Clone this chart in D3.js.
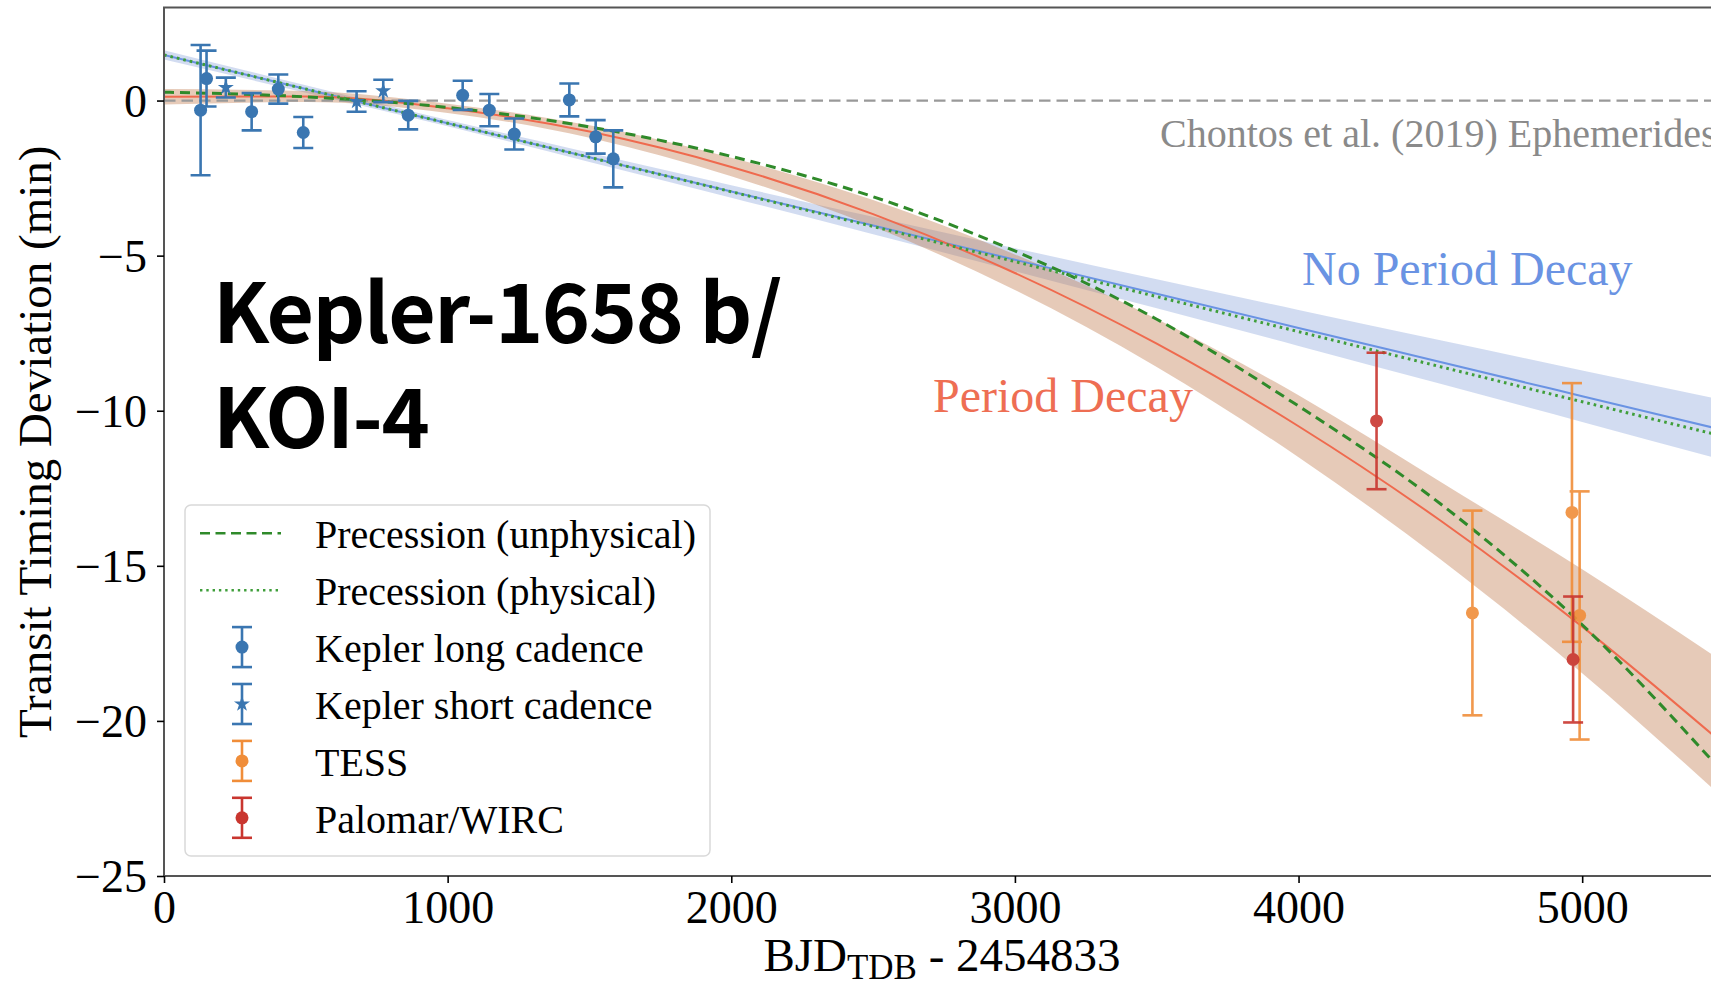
<!DOCTYPE html>
<html>
<head>
<meta charset="utf-8">
<script src="https://cdn.jsdelivr.net/npm/d3@7"></script>
<style>
  html, body { margin: 0; padding: 0; background: #ffffff; }
  svg { display: block; }
</style>
</head>
<body>
<svg id="chart" width="1711" height="984"></svg>
<script>
// ---- axis ticks ----
const xTicks = [0, 1000, 2000, 3000, 4000, 5000];
const yTicks = [0, -5, -10, -15, -20, -25];

// ---- observed transit times (days since BJD 2454833, deviation in minutes) ----
const keplerLongX   = [129, 150, 309, 403, 491, 861, 1053, 1147, 1235, 1429, 1522, 1584];
const keplerLongY   = [-0.31, 0.71, -0.36, 0.37, -1.03, -0.47, 0.17, -0.31, -1.08, 0.02, -1.17, -1.88];
const keplerLongErr = [2.1, 0.9, 0.6, 0.47, 0.5, 0.46, 0.47, 0.52, 0.5, 0.53, 0.54, 0.92];

const keplerShortX   = [218, 679, 773];
const keplerShortY   = [0.42, -0.03, 0.31];
const keplerShortErr = [0.32, 0.33, 0.36];

const tessX   = [4613, 4964, 4991];
const tessY   = [-16.52, -13.28, -16.6];
const tessErr = [3.3, 4.17, 4.0];

const palomarX   = [4275, 4968];
const palomarY   = [-10.33, -18.02];
const palomarErr = [2.2, 2.03];

// ---- model curves sampled along the time axis ----
const modelX = [0, 500, 1000, 1500, 2000, 2500, 3000, 3500, 4000, 4500, 5000, 5500];

const noDecayY     = [1.47, 0.37, -0.73, -1.83, -2.93, -4.03, -5.13, -6.23, -7.33, -8.43, -9.53, -10.63];
const noDecayUpper = [1.62, 0.49, -0.63, -1.68, -2.73, -3.75, -4.76, -5.76, -6.75, -7.73, -8.70, -9.66];
const noDecayLower = [1.32, 0.25, -0.83, -1.98, -3.13, -4.31, -5.50, -6.70, -7.91, -9.13, -10.36, -11.60];

const decayY     = [0.12, 0.13, -0.25, -1.00, -2.14, -3.66, -5.56, -7.84, -10.50, -13.54, -16.96, -20.76];
const decayUpper = [0.37, 0.31, -0.10, -0.80, -1.84, -3.21, -4.96, -7.04, -9.50, -12.29, -15.11, -18.11];
const decayLower = [-0.13, -0.05, -0.40, -1.20, -2.44, -4.06, -6.11, -8.59, -11.50, -14.79, -18.46, -22.51];

const precUnphysY = [0.27, 0.12, -0.22, -0.85, -1.80, -3.10, -4.85, -7.05, -9.85, -13.00, -16.90, -21.70];
const precPhysY   = [1.47, 0.37, -0.73, -1.83, -2.94, -4.06, -5.19, -6.32, -7.45, -8.58, -9.71, -10.83];

// ---- colours ----
const cKepler = "#3a76b1";
const cTess = "#f08d39";
const cPalomar = "#c9362f";
const cNoDecay = "#6a93e3";
const cDecay = "#ef6a4e";
const cGreenDash = "#2f8a2a";
const cGreenDot = "#3f9e3a";

const svg = d3.select("#chart");
const plot = { left: 164, right: 1724, top: 7.5, bottom: 876 };

const x = d3.scaleLinear().domain([0, 5500]).range([plot.left, plot.right]);
const y = d3.scaleLinear().domain([-25, 3]).range([plot.bottom, plot.top]);

svg.append("defs").append("clipPath").attr("id", "plotClip")
  .append("rect")
  .attr("x", plot.left).attr("y", plot.top)
  .attr("width", plot.right - plot.left).attr("height", plot.bottom - plot.top);

const g = svg.append("g").attr("clip-path", "url(#plotClip)");

const zip = (xs, ys) => xs.map((v, i) => [v, ys[i]]);
const bandData = (lo, hi) => modelX.map((v, i) => ({ x: v, lo: lo[i], hi: hi[i] }));

const band = d3.area()
  .x(d => x(d.x)).y0(d => y(d.lo)).y1(d => y(d.hi))
  .curve(d3.curveMonotoneX);
const line = d3.line().x(d => x(d[0])).y(d => y(d[1])).curve(d3.curveMonotoneX);

// uncertainty bands
g.append("path").datum(bandData(noDecayLower, noDecayUpper))
  .attr("d", band).attr("fill", "#8ea7db").attr("fill-opacity", 0.4);
g.append("path").datum(bandData(decayLower, decayUpper))
  .attr("d", band).attr("fill", "#c07a4e").attr("fill-opacity", 0.4);

// reference ephemeris line at zero
g.append("line")
  .attr("x1", plot.left).attr("x2", plot.right)
  .attr("y1", y(0)).attr("y2", y(0))
  .attr("stroke", "#999999").attr("stroke-width", 2.3)
  .attr("stroke-dasharray", "11.5 6");

// model lines
g.append("path").datum(zip(modelX, noDecayY)).attr("d", line)
  .attr("fill", "none").attr("stroke", cNoDecay).attr("stroke-width", 2);
g.append("path").datum(zip(modelX, decayY)).attr("d", line)
  .attr("fill", "none").attr("stroke", cDecay).attr("stroke-width", 2);
g.append("path").datum(zip(modelX, precUnphysY)).attr("d", line)
  .attr("fill", "none").attr("stroke", cGreenDash).attr("stroke-width", 3)
  .attr("stroke-dasharray", "10 6");
g.append("path").datum(zip(modelX, precPhysY)).attr("d", line)
  .attr("fill", "none").attr("stroke", cGreenDot).attr("stroke-width", 3)
  .attr("stroke-dasharray", "2.6 4");

// error bar helper
const capHalf = 10;
function errorBars(xs, ys, errs, color, marker, opacity) {
  const grp = g.append("g").attr("opacity", opacity);
  xs.forEach((xv, i) => {
    const cx = x(xv), top = y(ys[i] + errs[i]), bot = y(ys[i] - errs[i]);
    grp.append("line").attr("x1", cx).attr("x2", cx).attr("y1", top).attr("y2", bot)
      .attr("stroke", color).attr("stroke-width", 2.6);
    [top, bot].forEach(cy => grp.append("line")
      .attr("x1", cx - capHalf).attr("x2", cx + capHalf).attr("y1", cy).attr("y2", cy)
      .attr("stroke", color).attr("stroke-width", 2.6));
    if (marker === "circle") {
      grp.append("circle").attr("cx", cx).attr("cy", y(ys[i])).attr("r", 6.5).attr("fill", color);
    } else {
      grp.append("path").attr("d", d3.symbol(d3.symbolStar, 80)())
        .attr("transform", `translate(${cx},${y(ys[i])})`).attr("fill", color);
    }
  });
}
errorBars(keplerLongX, keplerLongY, keplerLongErr, cKepler, "circle", 1);
errorBars(keplerShortX, keplerShortY, keplerShortErr, cKepler, "star", 1);
errorBars(tessX, tessY, tessErr, cTess, "circle", 0.9);
errorBars(palomarX, palomarY, palomarErr, cPalomar, "circle", 0.9);

// annotations inside the axes
const serif = "'Liberation Serif', 'Times New Roman', serif";
g.append("text").attr("x", 1160).attr("y", 147)
  .attr("font-family", serif).attr("font-size", 40).attr("fill", "#8a8a8a")
  .text("Chontos et al. (2019) Ephemerides");
svg.append("text").attr("x", 1302).attr("y", 285)
  .attr("font-family", serif).attr("font-size", 48).attr("fill", cNoDecay)
  .text("No Period Decay");
svg.append("text").attr("x", 933).attr("y", 411.5)
  .attr("font-family", serif).attr("font-size", 48).attr("fill", "#ee6e53")
  .text("Period Decay");

// planet name
const titleFont = "'Noto Sans CJK SC', 'Noto Sans', sans-serif";
[["Kepler-1658 b/", 343], ["KOI-4", 448]].forEach(([txt, by]) => {
  svg.append("text")
    .attr("x", 213).attr("y", by)
    .attr("font-family", titleFont).attr("font-weight", 700)
    .attr("font-size", 82).attr("letter-spacing", -1.5).attr("fill", "#000")
    .text(txt);
});

// frame
svg.append("rect")
  .attr("x", plot.left).attr("y", plot.top)
  .attr("width", plot.right - plot.left).attr("height", plot.bottom - plot.top)
  .attr("fill", "none").attr("stroke", "#555555").attr("stroke-width", 2);

// axes
const xAxis = svg.append("g").attr("transform", `translate(0,${plot.bottom})`)
  .call(d3.axisBottom(x).tickValues(xTicks).tickSize(7).tickFormat(d3.format("d")));
xAxis.select(".domain").remove();
xAxis.selectAll(".tick line").attr("stroke", "#000").attr("stroke-width", 1.6);
xAxis.selectAll(".tick text")
  .attr("y", 47).attr("dy", null)
  .attr("font-family", serif).attr("font-size", 46).attr("fill", "#000");

const yAxis = svg.append("g").attr("transform", `translate(${plot.left},0)`)
  .call(d3.axisLeft(y).tickValues(yTicks).tickSize(7));
yAxis.select(".domain").remove();
yAxis.selectAll(".tick line").attr("stroke", "#000").attr("stroke-width", 1.6);
yAxis.selectAll(".tick text")
  .attr("x", -17).attr("dy", "0.34em")
  .attr("font-family", serif).attr("font-size", 46).attr("fill", "#000");

// axis titles
const xLabel = svg.append("text").attr("x", 942).attr("y", 971)
  .attr("text-anchor", "middle").attr("font-family", serif).attr("font-size", 47).attr("fill", "#000");
xLabel.append("tspan").text("BJD");
xLabel.append("tspan").attr("font-size", 35).attr("dy", 8).text("TDB");
xLabel.append("tspan").attr("dy", -8).text(" - 2454833");

svg.append("text")
  .attr("transform", `translate(51,${(plot.top + plot.bottom) / 2}) rotate(-90)`)
  .attr("text-anchor", "middle").attr("font-family", serif).attr("font-size", 47).attr("fill", "#000")
  .text("Transit Timing Deviation (min)");

// legend
const legend = svg.append("g");
legend.append("rect")
  .attr("x", 185).attr("y", 505).attr("width", 525).attr("height", 351).attr("rx", 6)
  .attr("fill", "#ffffff").attr("fill-opacity", 0.85)
  .attr("stroke", "#d9d9d9").attr("stroke-width", 1.5);

const legendRows = [
  { label: "Precession (unphysical)", kind: "dash" },
  { label: "Precession (physical)", kind: "dot" },
  { label: "Kepler long cadence", kind: "circle", color: cKepler },
  { label: "Kepler short cadence", kind: "star", color: cKepler },
  { label: "TESS", kind: "circle", color: cTess },
  { label: "Palomar/WIRC", kind: "circle", color: cPalomar }
];
legendRows.forEach((r, i) => {
  const ry = 533.3 + i * 56.9;
  if (r.kind === "dash") {
    legend.append("line").attr("x1", 200).attr("x2", 281).attr("y1", ry).attr("y2", ry)
      .attr("stroke", cGreenDash).attr("stroke-width", 2.6).attr("stroke-dasharray", "10 5.5");
  } else if (r.kind === "dot") {
    legend.append("line").attr("x1", 200).attr("x2", 281).attr("y1", ry).attr("y2", ry)
      .attr("stroke", cGreenDot).attr("stroke-width", 2.6).attr("stroke-dasharray", "2.4 3.9");
  } else {
    const cx = 242;
    legend.append("line").attr("x1", cx).attr("x2", cx).attr("y1", ry - 20).attr("y2", ry + 20)
      .attr("stroke", r.color).attr("stroke-width", 2.6);
    [ry - 20, ry + 20].forEach(cy => legend.append("line")
      .attr("x1", cx - capHalf).attr("x2", cx + capHalf).attr("y1", cy).attr("y2", cy)
      .attr("stroke", r.color).attr("stroke-width", 2.6));
    if (r.kind === "circle") {
      legend.append("circle").attr("cx", cx).attr("cy", ry).attr("r", 6.5).attr("fill", r.color);
    } else {
      legend.append("path").attr("d", d3.symbol(d3.symbolStar, 80)())
        .attr("transform", `translate(${cx},${ry})`).attr("fill", r.color);
    }
  }
  legend.append("text").attr("x", 315).attr("y", ry + 15)
    .attr("font-family", serif).attr("font-size", 40).attr("fill", "#000")
    .text(r.label);
});
</script>
</body>
</html>
